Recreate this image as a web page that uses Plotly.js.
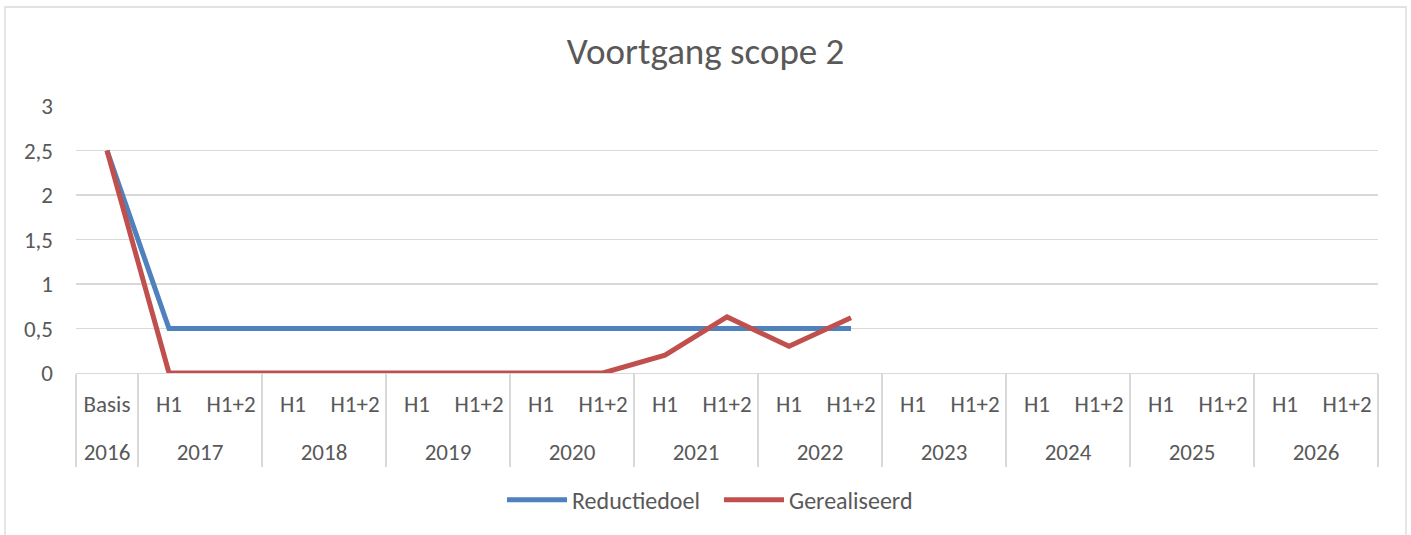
<!DOCTYPE html>
<html>
<head>
<meta charset="utf-8">
<script src="https://cdn.plot.ly/plotly-3.0.1.min.js"></script>
<style>
html,body{margin:0;padding:0;background:#fff;}
#chart{width:1411px;height:535px;}
</style>
</head>
<body>
<div id="chart"></div>
<script>
const years = ['2016','2017','2017','2018','2018','2019','2019','2020','2020','2021','2021','2022','2022','2023','2023','2024','2024','2025','2025','2026','2026'];
const periods = ['Basis','H1','H1+2','H1','H1+2','H1','H1+2','H1','H1+2','H1','H1+2','H1','H1+2','H1','H1+2','H1','H1+2','H1','H1+2','H1','H1+2'];
const reductiedoel = [2.5,0.5,0.5,0.5,0.5,0.5,0.5,0.5,0.5,0.5,0.5,0.5,0.5,null,null,null,null,null,null,null,null];
const gerealiseerd = [2.5,0,0,0,0,0,0,0,0,0.2,0.63,0.3,0.62,null,null,null,null,null,null,null,null];
const yTicks = [0,0.5,1,1.5,2,2.5,3];
const yTickText = ['0','0,5','1','1,5','2','2,5','3'];

const font = 'Calibri, Carlito, "Noto Sans", "Open Sans", sans-serif';
const grey = '#595959';

// invisible tall spaces around the period labels make the first label row deeper,
// so the year row sits lower, as in the reference
const pad = '<span style="font-size:46px"> </span>';
const innerLabels = periods.map(p => pad + p + pad);

const traces = [
  {x:[years,innerLabels], y:reductiedoel, name:'Reductiedoel', type:'scatter', mode:'lines',
   line:{color:'#4f81bd', width:5}, connectgaps:false},
  {x:[years,innerLabels], y:gerealiseerd, name:'Gerealiseerd', type:'scatter', mode:'lines',
   line:{color:'#c0504d', width:5}, connectgaps:false}
];

const layout = {
  width:1411, height:535,
  margin:{l:76, r:33, t:106, b:162},
  paper_bgcolor:'#fff', plot_bgcolor:'#fff',
  font:{family:font, color:grey, size:23},
  title:{text:'Voortgang scope 2', font:{family:font, size:37, color:grey}, x:0.5, xanchor:'center', y:0.905, yanchor:'middle'},
  showlegend:true,
  legend:{orientation:'h', x:(502-76)/1302, xanchor:'left', y:-0.476, yanchor:'middle', font:{family:font, size:24, color:grey},
    itemwidth:60, tracegroupgap:0, entrywidth:142, entrywidthmode:'pixels'},
  xaxis:{type:'multicategory', range:[-0.5,20.5], showgrid:false, showline:true, linecolor:'#d9d9d9', linewidth:1.3,
    showdividers:true, dividercolor:'#d9d9d9', dividerwidth:1.3, ticks:'', ticklabelstandoff:10,
    tickangle:0, tickfont:{family:font, size:23, color:grey}, mirror:false},
  yaxis:{range:[0,3], tickvals:yTicks, ticktext:yTickText, showgrid:true, gridcolor:'#d9d9d9', gridwidth:1.3,
    zeroline:false, showline:false, ticks:'', ticklabelstandoff:22, tickfont:{family:font, size:23, color:grey}},
  shapes:[
    {type:'rect', xref:'paper', yref:'paper', x0:(5-76)/1302, x1:(1406-76)/1302, y0:-(545-373)/267, y1:(373-7)/267,
     line:{color:'#d9d9d9', width:1.3}, fillcolor:'rgba(0,0,0,0)', layer:'below'}
  ]
};

Plotly.newPlot('chart', traces, layout, {staticPlot:true, displayModeBar:false});
</script>
</body>
</html>
